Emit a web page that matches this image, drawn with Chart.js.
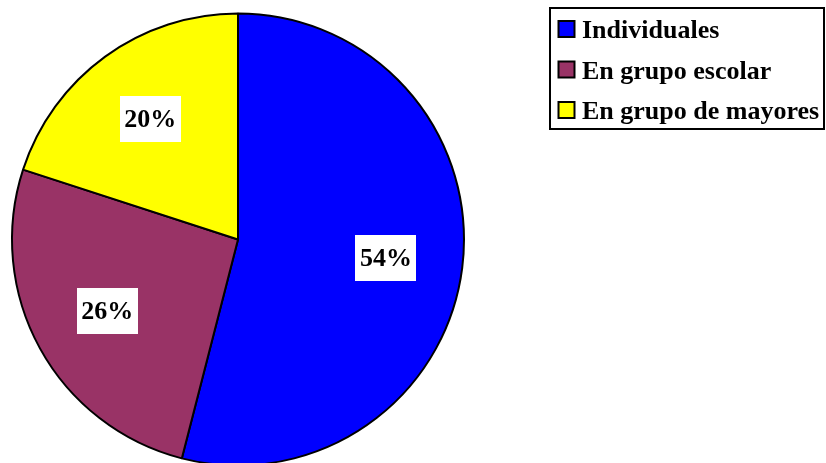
<!DOCTYPE html>
<html>
<head>
<meta charset="utf-8">
<script src="https://cdn.jsdelivr.net/npm/chart.js@4"></script>
<style>
  html, body { margin: 0; padding: 0; background: #fff; overflow: hidden; }
  #wrap { width: 826px; height: 463px; overflow: hidden; }
</style>
</head>
<body>
<div id="wrap"><canvas id="pieChart" width="826" height="480"></canvas></div>
<script>
var categories = ['Individuales', 'En grupo escolar', 'En grupo de mayores'];
var values = [54, 26, 20];
var sliceColors = ['#0000ff', '#993366', '#ffff00'];

var FONT = 'bold 26px "Liberation Serif", "Times New Roman", serif';

// white boxes with the percentage inside each slice
var pctLabels = {
  id: 'pctLabels',
  afterDatasetsDraw: function (chart) {
    var ctx = chart.ctx;
    var meta = chart.getDatasetMeta(0);
    var total = values.reduce(function (a, b) { return a + b; }, 0);
    ctx.save();
    ctx.font = FONT;
    ctx.textAlign = 'center';
    ctx.textBaseline = 'middle';
    meta.data.forEach(function (arc, i) {
      var mid = (arc.startAngle + arc.endAngle) / 2;
      var r = arc.outerRadius * 0.66;
      var x = arc.x + Math.cos(mid) * r;
      var y = arc.y + Math.sin(mid) * r;
      var txt = Math.round(values[i] / total * 100) + '%';
      var w = ctx.measureText(txt).width + 9;
      var h = 46;
      ctx.fillStyle = '#fff';
      ctx.fillRect(Math.round(x - w / 2), Math.round(y - h / 2), Math.round(w), h);
      ctx.fillStyle = '#000';
      ctx.fillText(txt, x, y + 1);
    });
    ctx.restore();
  }
};

// boxed legend on the right
var boxLegend = {
  id: 'boxLegend',
  afterDraw: function (chart) {
    var ctx = chart.ctx;
    ctx.save();
    ctx.lineWidth = 2;
    ctx.strokeStyle = '#000';
    ctx.strokeRect(550, 8, 274, 121);
    ctx.font = FONT;
    ctx.textBaseline = 'alphabetic';
    ctx.textAlign = 'left';
    categories.forEach(function (c, i) {
      var base = 38 + i * 40.5;
      ctx.fillStyle = sliceColors[i];
      ctx.fillRect(558.5, base - 17, 16, 16);
      ctx.lineWidth = 2;
      ctx.strokeStyle = '#000';
      ctx.strokeRect(558.5, base - 17, 16, 16);
      ctx.fillStyle = '#000';
      ctx.fillText(c, 582, base);
    });
    ctx.restore();
  }
};

new Chart(document.getElementById('pieChart').getContext('2d'), {
  type: 'pie',
  data: {
    labels: categories,
    datasets: [{
      data: values,
      backgroundColor: sliceColors,
      borderColor: '#000',
      borderWidth: 2,
      hoverOffset: 0
    }]
  },
  options: {
    responsive: false,
    animation: false,
    layout: { padding: { left: 11, top: 12, right: 361, bottom: 13 } },
    plugins: {
      legend: { display: false },
      tooltip: { enabled: false }
    }
  },
  plugins: [pctLabels, boxLegend]
});
</script>
</body>
</html>
